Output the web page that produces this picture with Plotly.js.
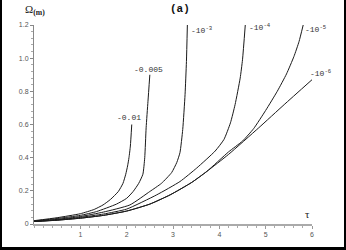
<!DOCTYPE html>
<html><head><meta charset="utf-8">
<script src="https://cdn.plot.ly/plotly-3.0.1.min.js"></script>
<style>
html,body{margin:0;padding:0;background:#fff;}
#wrap{position:relative;width:346px;height:250px;}
#chart{width:346px;height:250px;}
#frame{position:absolute;left:0;top:0;width:346px;height:250px;box-sizing:border-box;border-left:2px solid #000;border-right:2px solid #000;border-bottom:3px solid #000;pointer-events:none;}
</style></head>
<body><div id="wrap"><div id="chart"></div><div id="frame"></div></div>
<script>
// Series (tau, Omega_(m))
const names = ["-0.01", "-0.005", "-10^-3", "-10^-4", "-10^-5", "-10^-6"];
const tau_a = [0, 0.5, 1.0, 1.3, 1.49, 1.65, 1.82, 1.92, 1.98, 2.02, 2.05, 2.08, 2.11];
const om_a  = [0.02, 0.038, 0.062, 0.088, 0.115, 0.148, 0.196, 0.245, 0.30, 0.35, 0.40, 0.47, 0.60];
const tau_b = [0, 0.5, 1.0, 1.35, 1.78, 2.0, 2.14, 2.26, 2.35, 2.39, 2.42, 2.46, 2.50];
const om_b  = [0.018, 0.033, 0.052, 0.075, 0.12, 0.155, 0.196, 0.245, 0.30, 0.40, 0.58, 0.74, 0.90];
const tau_c = [0, 0.5, 1.0, 1.5, 2.07, 2.50, 2.75, 2.97, 3.08, 3.15, 3.21, 3.26, 3.29, 3.31];
const om_c  = [0.016, 0.028, 0.045, 0.072, 0.115, 0.196, 0.245, 0.31, 0.37, 0.43, 0.57, 0.78, 0.98, 1.20];
const tau_d = [0, 0.5, 1.0, 1.5, 2.0, 2.65, 3.15, 3.51, 3.91, 4.10, 4.24, 4.34, 4.45, 4.50, 4.56];
const om_d  = [0.015, 0.025, 0.04, 0.06, 0.09, 0.176, 0.256, 0.337, 0.44, 0.51, 0.61, 0.72, 0.88, 0.99, 1.20];
const tau_e = [0, 0.5, 1.0, 1.5, 2.0, 2.5, 2.94, 3.4, 3.73, 4.2, 4.5, 4.74, 5.0, 5.25, 5.45, 5.61, 5.72, 5.81];
const om_e  = [0.015, 0.023, 0.035, 0.052, 0.078, 0.12, 0.176, 0.25, 0.317, 0.435, 0.50, 0.575, 0.685, 0.80, 0.905, 1.01, 1.10, 1.20];
const tau_f = [0, 0.5, 1.0, 1.5, 2.0, 2.5, 2.94, 3.4, 3.73, 4.2, 4.85, 5.4, 6.0];
const om_f  = [0.015, 0.023, 0.035, 0.052, 0.078, 0.12, 0.176, 0.25, 0.317, 0.42, 0.58, 0.72, 0.87];
const yTicks = [0, 0.2, 0.4, 0.6, 0.8, 1.0, 1.2];
const yTickText = ["0", "0.2", "0.4", "0.6", "0.8", "1.0", "1.2"];
const xTicks = [1, 2, 3, 4, 5, 6];
const labelText = ["-0.01", "-0.005", "-10<sup>-3</sup>", "-10<sup>-4</sup>", "-10<sup>-5</sup>", "-10<sup>-6</sup>"];

const xs = [tau_a, tau_b, tau_c, tau_d, tau_e, tau_f];
const ys = [om_a, om_b, om_c, om_d, om_e, om_f];
const traces = xs.map((x, i) => ({
  x: x, y: ys[i], name: names[i], type: "scatter", mode: "lines",
  line: {color: "#1a1a1a", width: 1, shape: "spline", smoothing: 0.5},
  hoverinfo: "skip"
}));

// label anchor positions in data coords (placement only)
const labPos = [[2.06, 0.64, "center"], [2.48, 0.93, "center"], [3.35, 1.17, "left"],
                [4.60, 1.19, "left"], [5.81, 1.175, "left"], [5.92, 0.91, "left"]];
const annotations = labPos.map((p, i) => ({
  x: p[0], y: p[1], xref: "x", yref: "y", text: labelText[i], showarrow: false,
  xanchor: p[2], yanchor: "middle",
  font: {family: "Liberation Mono, Courier New, monospace", size: 8, color: "#333"}
}));
annotations.push({xref: "paper", yref: "paper", x: -0.04, y: 1.03, xanchor: "left", yanchor: "bottom",
  text: "Ω<sub><b>(m)</b></sub>", showarrow: false,
  font: {family: "Liberation Serif, Times New Roman, serif", size: 11, color: "#222"}});
annotations.push({xref: "paper", yref: "paper", x: 0.525, y: 1.04, xanchor: "center", yanchor: "bottom",
  text: "<b>(a)</b>", showarrow: false,
  font: {family: "Liberation Mono, Courier New, monospace", size: 11, color: "#111"}});
annotations.push({xref: "paper", yref: "paper", x: 0.985, y: 0.0, xanchor: "center", yanchor: "bottom",
  text: "τ", showarrow: false, yshift: 2,
  font: {family: "Liberation Serif, Times New Roman, serif", size: 11, color: "#222"}});

const layout = {
  width: 346, height: 250,
  margin: {l: 34, r: 34, t: 25, b: 26},
  paper_bgcolor: "#fff", plot_bgcolor: "#fff",
  showlegend: false,
  xaxis: {range: [0, 6], tickvals: xTicks, ticks: "outside", ticklen: 3, tickcolor: "#999",
    showline: true, linecolor: "#aaa", linewidth: 2, showgrid: false, zeroline: false,
    tickfont: {family: "Liberation Sans, Arial, sans-serif", size: 7, color: "#555"},
    minor: {dtick: 0.2, ticks: "outside", ticklen: 2, tickcolor: "#aaa"}},
  yaxis: {range: [0, 1.2], tickvals: yTicks, ticktext: yTickText, ticks: "outside", ticklen: 3, tickcolor: "#888",
    showline: true, linecolor: "#888", linewidth: 1, showgrid: false, zeroline: false,
    tickfont: {family: "Liberation Sans, Arial, sans-serif", size: 7, color: "#555"},
    minor: {dtick: 0.04, ticks: "outside", ticklen: 2, tickcolor: "#aaa"}},
  annotations: annotations
};
Plotly.newPlot("chart", traces, layout, {displayModeBar: false, staticPlot: true});
</script>
</body></html>
